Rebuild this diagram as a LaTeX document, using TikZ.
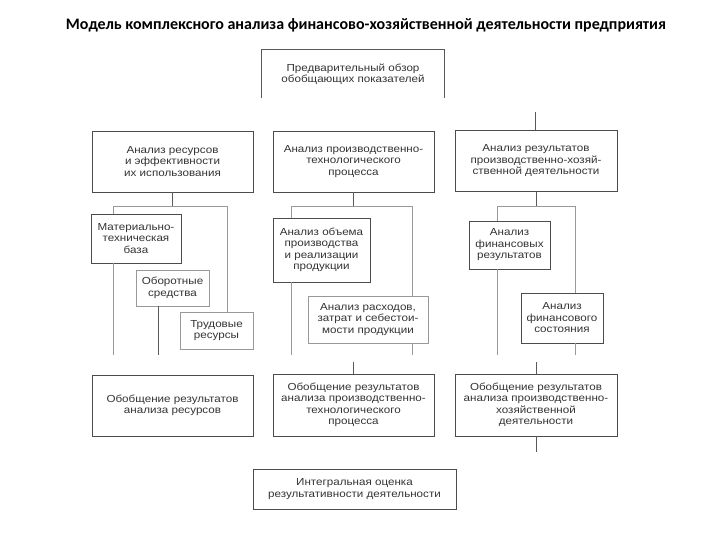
\documentclass[tikz,border=0pt]{standalone}
\usepackage{fontspec}
\setmainfont{Liberation Sans}[FakeStretch=1.14]
\newfontfamily\titlefont{Carlito}
\tikzset{
  box/.style={draw=black!70, line width=0.7pt, align=center, inner sep=1pt,
    font=\fontsize{10.2}{11.5}\selectfont, text=black!80},
  link/.style={draw=black!65, line width=0.7pt},
  thin link/.style={draw=black!40, line width=0.6pt}
}
\begin{document}
\begin{tikzpicture}[x=1pt, y=-1pt]
    \useasboundingbox (0,0) rectangle (720,540);

    % Title
    \node[font=\titlefont\bfseries\fontsize{16}{18}\selectfont] (title) at (366,25)
      {Модель комплексного анализа финансово-хозяйственной деятельности предприятия};

    % Top box (open at the bottom)
    \node[box, draw=none, minimum width=182pt, minimum height=48pt] (overview) at (353,74)
      {Предварительный обзор\\обобщающих показателей};
    \draw[link] (overview.south west) -- (overview.north west) -- (overview.north east) -- (overview.south east);

    % Main analysis boxes
    \node[box, minimum width=161pt, minimum height=61pt] (res) at (172.5,161.5)
      {Анализ ресурсов\\и эффективности\\их использования};
    \node[box, minimum width=161pt, minimum height=61pt] (proc) at (353.5,161.5)
      {Анализ производственно-\\технологического\\процесса};
    \node[box, minimum width=162pt, minimum height=61pt] (rslt) at (536,161)
      {Анализ результатов\\производственно-хозяй-\\ственной деятельности};

    % Resources group
    \node[box, minimum width=90pt, minimum height=49pt] (base) at (136,238.5)
      {Материально-\\техническая\\база};
    \node[box, thin link, minimum width=73pt, minimum height=36pt] (funds) at (172.5,288)
      {Оборотные\\средства};
    \node[box, thin link, minimum width=73pt, minimum height=37pt] (labour) at (216.5,330.5)
      {Трудовые\\ресурсы};

    % Process group
    \node[box, minimum width=97pt, minimum height=64pt] (volume) at (321.5,250)
      {Анализ объема\\производства\\и реализации\\продукции};
    \node[box, thin link, minimum width=120pt, minimum height=47pt] (costs) at (368,319.5)
      {Анализ расходов,\\затрат и себестои-\\мости продукции};

    % Results group
    \node[box, minimum width=81pt, minimum height=48pt] (finres) at (509.5,245)
      {Анализ\\финансовых\\результатов};
    \node[box, minimum width=82pt, minimum height=50pt] (finstate) at (562,318)
      {Анализ\\финансового\\состояния};

    % Summary boxes
    \node[box, minimum width=161pt, minimum height=61pt] (sumres) at (172.5,405.5)
      {Обобщение результатов\\анализа ресурсов};
    \node[box, minimum width=161pt, minimum height=62pt] (sumproc) at (353.5,405)
      {Обобщение результатов\\анализа производственно-\\технологического\\процесса};
    \node[box, minimum width=162pt, minimum height=62pt] (sumrslt) at (536,405)
      {Обобщение результатов\\анализа производственно-\\хозяйственной\\деятельности};

    % Final box
    \node[box, minimum width=203pt, minimum height=40pt] (integral) at (354.5,489)
      {Интегральная оценка\\результативности деятельности};

    % Helper points
    \coordinate (rtop) at (535,112);
    \coordinate (aL) at (113,206);
    \coordinate (aR) at (227,206);
    \coordinate (aM) at (158,355);
    \coordinate (bL) at (291,206);
    \coordinate (bR) at (412,206);
    \coordinate (cL) at (497,206);
    \coordinate (cR) at (575,206);
    \coordinate (bot) at (0,355);
    \coordinate (low) at (0,362);
    \coordinate (tail) at (0,452);

    % Stub above the results box
    \draw[link] (rtop) -- (rslt.north -| rtop);

    % Resources branch
    \draw[link] (res.south) -- (res.south |- aL);
    \draw[thin link] (aL) -- (aR);
    \draw[thin link] (aL) -- (base.north -| aL);
    \draw[thin link] (aR) -- (labour.north -| aR);
    \draw[thin link] (base.south -| aL) -- (aL |- bot);
    \draw[link] (funds.south -| aM) -- (aM);

    % Process branch
    \draw[link] (proc.south) -- (proc.south |- bL);
    \draw[thin link] (bL) -- (bR);
    \draw[thin link] (bL) -- (volume.north -| bL);
    \draw[thin link] (bR) -- (costs.north -| bR);
    \draw[thin link] (volume.south -| bL) -- (bL |- bot);
    \draw[thin link] (costs.south -| bR) -- (bR |- bot);
    \draw[link] (sumproc.north |- low) -- (sumproc.north);

    % Results branch
    \draw[link] (rslt.south) -- (rslt.south |- cL);
    \draw[thin link] (cL) -- (cR);
    \draw[thin link] (cL) -- (finres.north -| cL);
    \draw[thin link] (cR) -- (finstate.north -| cR);
    \draw[thin link] (finres.south -| cL) -- (cL |- bot);
    \draw[thin link] (finstate.south -| cR) -- (cR |- bot);
    \draw[link] (sumrslt.north |- low) -- (sumrslt.north);
    \draw[link] (sumrslt.south) -- (sumrslt.south |- tail);
\end{tikzpicture}
\end{document}
